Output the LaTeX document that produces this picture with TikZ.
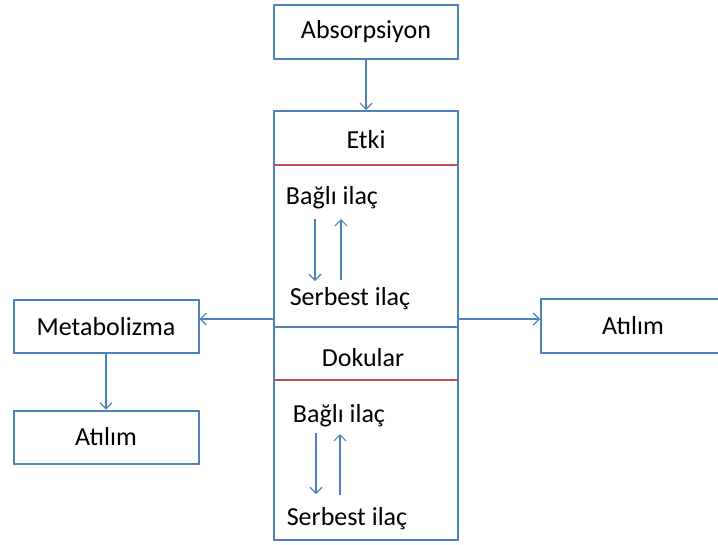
\documentclass[tikz,border=0pt]{standalone}
\usepackage{fontspec}
\setmainfont{Carlito}
\usetikzlibrary{arrows.meta}
\definecolor{boxblue}{HTML}{4F81BD}
\definecolor{divred}{HTML}{C0504D}
\tikzset{
  box/.style={draw=boxblue, line width=2pt, fill=white, inner sep=0pt},
  lbl/.style={inner sep=0pt, font=\fontsize{26}{30}\selectfont},
  flow/.style={draw=boxblue, line width=1.2pt, -{Straight Barb[length=6pt,width=12pt]}},
  divider/.style={draw=divred, line width=2pt}
}
\begin{document}
\begin{tikzpicture}[x=1pt,y=-1pt]
\useasboundingbox (0,0) rectangle (718,544);
% main column
\node[box, minimum width=184pt, minimum height=54pt] (absorb) at (366,32) {};
\node[lbl] at (absorb.center) {Absorpsiyon};
\node[box, minimum width=184pt, minimum height=216pt] (etki) at (366,219) {};
\node[box, minimum width=184pt, minimum height=213pt] (dokular) at (366,433.5) {};
\draw[divider] (274,165) -- (458,165);
\draw[divider] (274,380) -- (458,380);
% side boxes
\node[box, minimum width=185pt, minimum height=53pt] (metab) at (106,326.5) {};
\node[lbl] at (metab.center) {Metabolizma};
\node[box, minimum width=185pt, minimum height=53pt] (atilimL) at (106,437) {};
\node[lbl] at (atilimL.center) {Atılım};
\node[box, minimum width=184pt, minimum height=54pt] (atilimR) at (633,326) {};
\node[lbl] at (atilimR.center) {Atılım};
% labels inside the column
\node[lbl] (etkiT) at (366,140) {Etki};
\node[lbl] (bagli1) at (332,198) {Bağlı ilaç};
\node[lbl] (serb1) at (350,299) {Serbest ilaç};
\node[lbl] (dokT) at (363,358) {Dokular};
\node[lbl] (bagli2) at (339,416) {Bağlı ilaç};
\node[lbl] (serb2) at (347,519) {Serbest ilaç};
% connectors
\draw[flow] (absorb.south) -- (etki.north);
\coordinate (eL) at (274,319);
\coordinate (eR) at (458,319);
\draw[flow] (eL) -- (eL -| metab.east);
\draw[flow] (eR) -- (eR -| atilimR.west);
\draw[flow] (metab.south) -- (atilimL.north);
% equilibrium arrows
\coordinate (d1a) at (315,219); \coordinate (d1b) at (315,281);
\coordinate (u1a) at (341,280); \coordinate (u1b) at (341,219);
\draw[flow] (d1a) -- (d1b);
\draw[flow] (u1a) -- (u1b);
\coordinate (d2a) at (316,433); \coordinate (d2b) at (316,494);
\coordinate (u2a) at (340,495); \coordinate (u2b) at (340,434);
\draw[flow] (d2a) -- (d2b);
\draw[flow] (u2a) -- (u2b);
\end{tikzpicture}
\end{document}
